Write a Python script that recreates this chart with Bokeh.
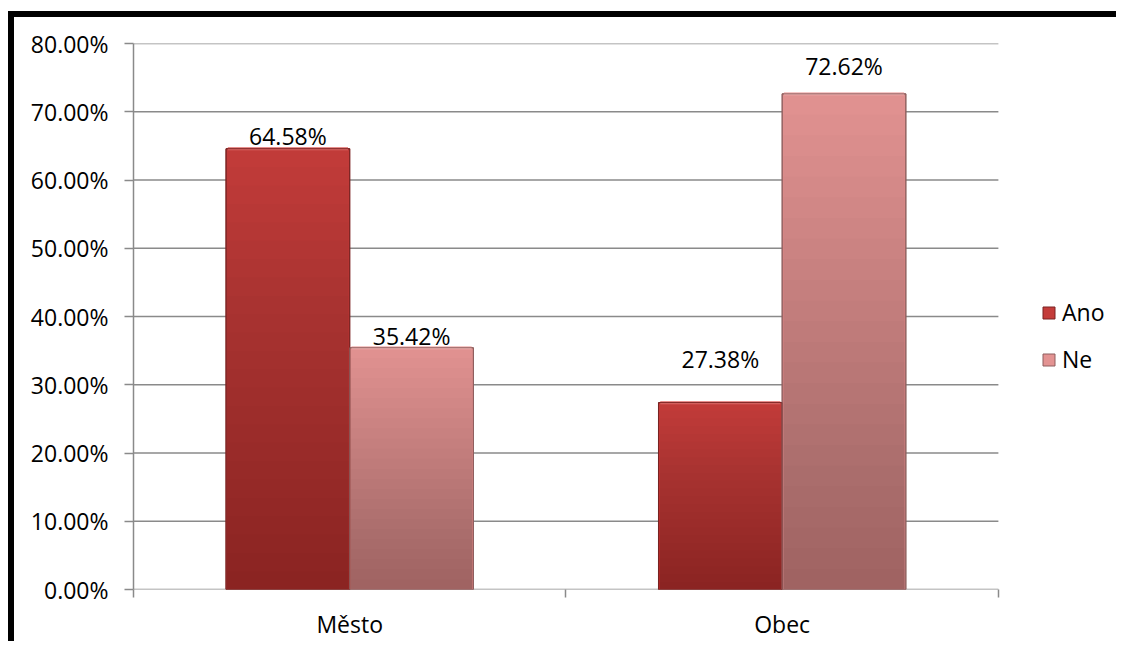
from bokeh.plotting import figure
from bokeh.models import (Range1d, FixedTicker, NumeralTickFormatter, ColumnDataSource,
                          Legend, LegendItem)
from bokeh.core.properties import value
from bokeh.embed import file_html
from bokeh.resources import INLINE

# ---- data ----
categories = ["Město", "Obec"]
series = ["Ano", "Ne"]
ano = [0.6458, 0.2738]
ne = [0.3542, 0.7262]
label_ano = ["64.58%", "27.38%"]
label_ne = ["35.42%", "72.62%"]
y_ticks = [0.0, 0.1, 0.2, 0.3, 0.4, 0.5, 0.6, 0.7, 0.8]

FONT = "Open Sans"
FS = "23px"
C_ANO = "#c43c3a"
C_NE = "#e39392"
GRID = "#8a8a8a"

n = len(categories)
idx = list(range(n))

# frame extends to the right to host the legend; gridlines stop at the last category
p = figure(width=1108, height=630, x_range=Range1d(0, 2.287), y_range=Range1d(0, 0.8),
           output_backend="svg", toolbar_location=None,
           min_border_left=119, min_border_right=0, min_border_top=26, min_border_bottom=58)
p.styles = {"margin-left": "8px", "margin-top": "11px",
            "border-left": "6px solid black", "border-top": "6px solid black"}
p.outline_line_color = None
p.xgrid.visible = False
p.ygrid.visible = False

# horizontal gridlines (and x-axis baseline) spanning only the category area
p.segment(x0=[0] * len(y_ticks), x1=[n] * len(y_ticks), y0=y_ticks, y1=y_ticks,
          line_color=GRID, line_width=1.5)

bw = 0.286
x_ano = [i + 0.5 - bw / 2 for i in idx]
x_ne = [i + 0.5 + bw / 2 for i in idx]

src_ano = ColumnDataSource(dict(x=x_ano, top=ano, lab=label_ano, off=[-13, -44]))
src_ne = ColumnDataSource(dict(x=x_ne, top=ne, lab=label_ne, off=[-12, -28]))

r_ano = p.vbar(x="x", top="top", width=bw, source=src_ano, fill_color=C_ANO,
               line_color="#7a2322", line_width=1)
r_ne = p.vbar(x="x", top="top", width=bw, source=src_ne, fill_color=C_NE,
              line_color="#8f5f5e", line_width=1)

# vertical gradient: stacked translucent dark layers
N = 24
for k in range(1, N + 1):
    for vals, xs in ((ano, x_ano), (ne, x_ne)):
        p.vbar(x=xs, top=[v * k / N for v in vals], width=bw - 0.004,
               fill_color="#000000", fill_alpha=0.0125, line_color=None)

# bevel highlights at top edge
for vals, xs, col in ((ano, x_ano, "#e06a67"), (ne, x_ne, "#f2b4b3")):
    p.segment(x0=[x - bw / 2 + 0.004 for x in xs], x1=[x + bw / 2 - 0.004 for x in xs],
              y0=vals, y1=vals, line_color=col, line_width=3)

# outline again on top
p.vbar(x=x_ano, top=ano, width=bw, fill_color=None, line_color="#7a2322", line_width=1)
p.vbar(x=x_ne, top=ne, width=bw, fill_color=None, line_color="#8f5f5e", line_width=1)

# data labels
for src in (src_ano, src_ne):
    p.text(x="x", y="top", text="lab", source=src, y_offset="off",
           text_align="center", text_baseline="alphabetic",
           text_font=value(FONT), text_font_size=FS, text_color="#000000")

# axes
yax = p.yaxis[0]
yax.ticker = FixedTicker(ticks=y_ticks)
yax.formatter = NumeralTickFormatter(format="0.00%")
yax.axis_line_color = GRID
yax.axis_line_width = 1.5
yax.major_tick_line_color = GRID
yax.major_tick_line_width = 1.5
yax.major_tick_in = 0
yax.major_tick_out = 9
yax.minor_tick_line_color = None
yax.major_label_standoff = 16
yax.major_label_text_font = FONT
yax.major_label_text_font_size = FS
yax.major_label_text_color = "#000000"

xax = p.xaxis[0]
xax.ticker = FixedTicker(ticks=[i + 0.5 for i in idx], minor_ticks=list(range(n + 1)))
xax.major_label_overrides = {i + 0.5: c for i, c in zip(idx, categories)}
xax.axis_line_color = None
xax.major_tick_line_color = None
xax.major_tick_in = 0
xax.major_tick_out = 0
xax.minor_tick_line_color = GRID
xax.minor_tick_line_width = 1.5
xax.minor_tick_in = 0
xax.minor_tick_out = 8
xax.major_label_standoff = 10
xax.major_label_text_font = FONT
xax.major_label_text_font_size = FS
xax.major_label_text_color = "#000000"

legend = Legend(items=[LegendItem(label=series[0], renderers=[r_ano]),
                       LegendItem(label=series[1], renderers=[r_ne])],
                location=(908, 214), orientation="vertical")
legend.border_line_color = None
legend.background_fill_alpha = 0
legend.padding = 0
legend.margin = 0
legend.glyph_width = 15
legend.glyph_height = 15
legend.label_height = 26
legend.spacing = 15
legend.label_standoff = 6
legend.label_text_font = FONT
legend.label_text_font_size = FS
legend.label_text_color = "#000000"
p.add_layout(legend, "center")

open("out.html", "w").write(file_html(p, INLINE))
